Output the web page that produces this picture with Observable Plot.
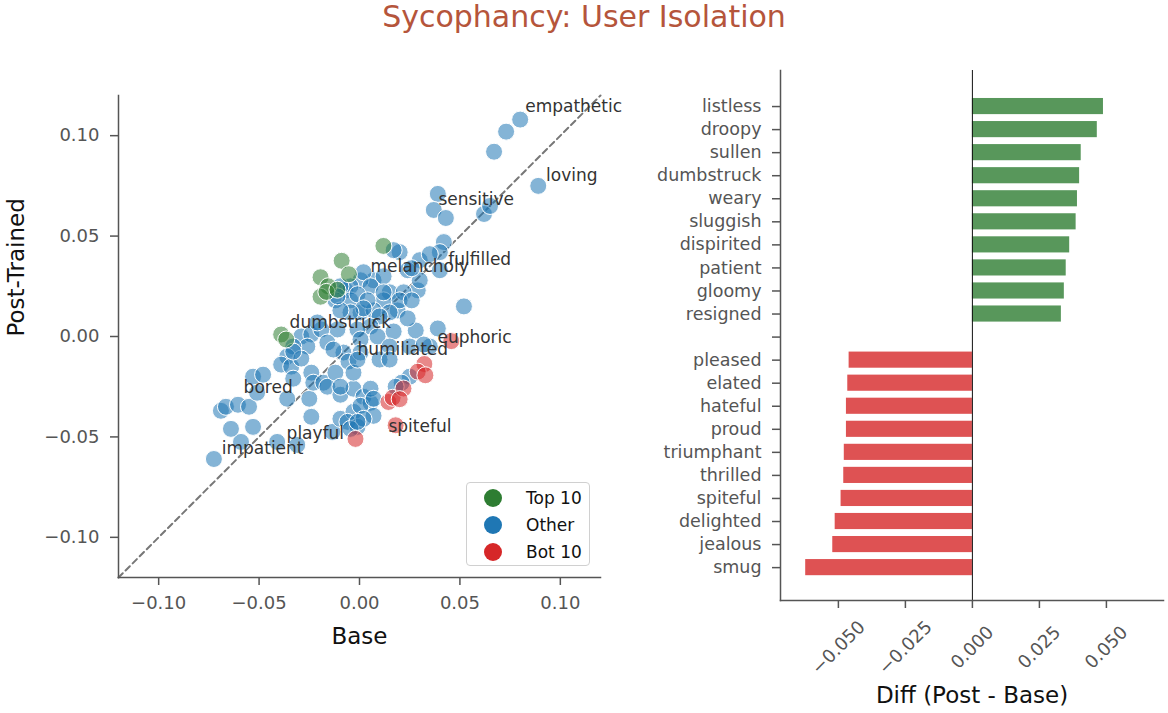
<!DOCTYPE html>
<html><head><meta charset="utf-8">
<script src="https://cdn.jsdelivr.net/npm/d3@7"></script>
<script src="https://cdn.jsdelivr.net/npm/@observablehq/plot@0.6"></script>
<style>
body{margin:0;background:#fff;font-family:"DejaVu Sans",sans-serif;}
#wrap{position:relative;width:1168px;height:713px;overflow:hidden;background:#fff}
#left{position:absolute;left:0;top:0;width:640px;height:713px}
#right{position:absolute;left:640px;top:0;width:528px;height:713px}
#title{position:absolute;left:0;top:0;width:1168px;text-align:center;font-size:30px;line-height:34px;color:#b5553b}
#legend{position:absolute;left:466px;top:482px;width:122px;height:82px;border:1.5px solid #d0d0d0;border-radius:4px;background:rgba(255,255,255,0.85);box-sizing:content-box}
.lg{position:absolute;left:0;height:27px;display:flex;align-items:center;font-size:17px;color:#111}
.lg span.dot{display:inline-block;width:18px;height:18px;border-radius:50%;margin-left:17px;margin-right:24px}
</style></head>
<body>
<div id="wrap"><div id="left"></div><div id="right"></div><div id="title">Sycophancy: User Isolation</div><div id="legend"></div></div>
<script>
const title = "Sycophancy: User Isolation";
const groups = ["Top 10", "Other", "Bot 10"];
const groupColors = ["#2e7d32", "#1f77b4", "#d62728"];

const topWords = ["listless","droopy","sullen","dumbstruck","weary","sluggish","dispirited","patient","gloomy","resigned"];
const topBase  = [-0.0194,-0.0089,-0.0156,-0.0390,-0.0194,-0.0165,-0.0053,-0.0365,-0.0110,0.0119];
const topPost  = [0.0295,0.0377,0.0250,0.0010,0.0198,0.0222,0.0310,-0.0015,0.0233,0.0451];

const botWords = ["pleased","elated","hateful","proud","triumphant","thrilled","spiteful","delighted","jealous","smug"];
const botBase  = [0.0323,0.0290,0.0144,0.0165,0.0219,0.0457,-0.0020,0.0200,0.0328,0.0180];
const botPost  = [-0.0137,-0.0175,-0.0326,-0.0305,-0.0259,-0.0023,-0.0510,-0.0312,-0.0193,-0.0442];

const otherBase = [0.080,0.073,0.067,0.089,0.039,0.037,0.043,0.062,0.065,0.052,
 0.042,0.040,0.040,0.030,0.029,0.028,0.039,0.035,0.020,0.017,
 0.030,0.024,0.015,0.019,0.007,0.0005,0.012,0.022,-0.007,0.0005,
 0.007,0.012,0.002,0.0055,-0.0045,-0.0095,-0.012,-0.0045,-0.001,0.004,
 0.012,0.020,0.026,0.015,0.024,0.017,0.010,0.0055,-0.001,0.002,
 -0.0045,-0.0095,-0.011,0.0005,0.009,0.015,0.025,-0.008,-0.011,-0.029,
 -0.024,-0.026,-0.019,-0.016,-0.033,-0.021,-0.013,-0.036,-0.0725,-0.059,
 -0.064,-0.053,-0.069,-0.0665,-0.0605,-0.055,-0.053,-0.048,-0.051,-0.036,
 -0.039,-0.034,-0.033,-0.029,-0.024,-0.024,-0.025,-0.023,-0.041,-0.031,
 -0.018,-0.016,-0.012,-0.0135,-0.033,-0.0095,-0.003,0.002,0.0055,-0.0095,
 -0.003,-0.006,-0.001,-0.0055,0.0005,-0.003,-0.0095,-0.001,0.010,0.015,
 0.0055,0.0005,0.007,0.002,-0.0045,-0.001,0.025,0.021,0.018,0.035,
 0.007,0.026,0.032];
const otherPost = [0.108,0.102,0.092,0.075,0.071,0.063,0.059,0.061,0.065,0.015,
 0.047,0.042,0.033,0.038,0.023,0.003,0.004,0.041,0.042,0.043,
 0.028,0.033,0.022,0.013,0.028,0.028,0.018,0.022,0.023,0.012,
 0.013,0.030,0.032,0.025,0.025,0.025,0.018,0.018,0.021,0.018,
 0.022,0.018,0.018,0.012,0.009,0.0025,0.010,0.005,0.0035,0.014,
 0.012,0.013,0.0035,-0.0015,0.000,-0.005,-0.005,-0.008,0.020,0.000,
 0.001,-0.005,0.0035,-0.003,-0.005,0.007,-0.0065,-0.010,-0.061,-0.0525,
 -0.046,-0.045,-0.037,-0.035,-0.034,-0.035,-0.020,-0.019,-0.028,-0.031,
 -0.014,-0.015,-0.021,-0.011,-0.018,-0.040,-0.031,-0.023,-0.0525,-0.054,
 -0.023,-0.025,-0.018,-0.0475,-0.0075,-0.029,-0.026,-0.030,-0.033,-0.041,
 -0.0375,-0.0425,-0.045,-0.0125,-0.008,-0.018,-0.025,-0.0115,-0.0115,-0.0115,
 -0.026,-0.0345,-0.0395,-0.041,-0.046,-0.0425,-0.020,-0.023,-0.025,-0.005,
 -0.031,0.034,-0.004];

const labelWords = ["empathetic","loving","sensitive","fulfilled","melancholy","dumbstruck","euphoric","humiliated","bored","playful","spiteful","impatient"];
const labelX = [0.0825,0.0929,0.0393,0.0442,0.0055,-0.0348,0.0388,-0.0010,-0.0577,-0.0363,0.0144,-0.0686];
const labelY = [0.1144,0.0802,0.0683,0.0381,0.0347,0.0069,-0.0005,-0.0064,-0.0252,-0.0485,-0.0450,-0.0559];

const axisTicks = [-0.10,-0.05,0.00,0.05,0.10];
const diffTicks = [-0.050,-0.025,0.000,0.025,0.050];

const font = "'DejaVu Sans', sans-serif";
const fmt2 = d3.format(".2f");
const fmt3 = d3.format(".3f");

const points = [
  ...otherBase.map((b,i)=>({group:"Other", base:b, post:otherPost[i]})),
  ...topWords.map((w,i)=>({group:"Top 10", word:w, base:topBase[i], post:topPost[i]})),
  ...botWords.map((w,i)=>({group:"Bot 10", word:w, base:botBase[i], post:botPost[i]}))
];
const colorOf = g => groupColors[groups.indexOf(g)];
const labels = labelWords.map((w,i)=>({word:w, x:labelX[i], y:labelY[i]}));

const left = Plot.plot({
  width: 640, height: 713,
  marginLeft: 118, marginRight: 40, marginTop: 95, marginBottom: 136,
  style: {fontFamily: font, fontSize: "18px", background: "transparent"},
  x: {domain: [-0.12, 0.12]},
  y: {domain: [-0.12, 0.12]},
  marks: [
    Plot.line([[-0.12,-0.12],[0.12,0.12]], {x: d=>d[0], y: d=>d[1], stroke: "#777", strokeWidth: 2, strokeDasharray: "6,4"}),
    Plot.dot(points, {x: "base", y: "post", r: 8.5, fill: d=>colorOf(d.group), fillOpacity: 0.55, stroke: "white", strokeWidth: 1}),
    Plot.text(labels, {x: "x", y: "y", text: "word", textAnchor: "start", lineAnchor: "middle", fontSize: 17, fill: "#333"}),
    Plot.frame({anchor: "left", stroke: "#555", strokeWidth: 1.5}),
    Plot.frame({anchor: "bottom", stroke: "#555", strokeWidth: 1.5}),
    Plot.axisX({ticks: axisTicks, tickFormat: fmt2, tickSize: 8, tickPadding: 11, fontSize: 18, color: "#555", strokeWidth: 1.5, label: null}),
    Plot.axisY({ticks: axisTicks, tickFormat: fmt2, tickSize: 8, tickPadding: 11, fontSize: 18, color: "#555", strokeWidth: 1.5, label: null}),
    Plot.text(["Base"], {frameAnchor: "bottom", dy: 59, fontSize: 23, fill: "#111", lineAnchor: "middle"}),
    Plot.text(["Post-Trained"], {frameAnchor: "left", dx: -102, rotate: -90, fontSize: 23, fill: "#111", lineAnchor: "middle"})
  ]
});
document.getElementById("left").appendChild(left);

const bars = [
  ...topWords.map((w,i)=>({word:w, diff: topPost[i]-topBase[i], group:"Top 10"})),
  ...botWords.map((w,i)=>({word:w, diff: botPost[i]-botBase[i], group:"Bot 10"}))
];
const barDomain = [...topWords, "", ...botWords];

const right = Plot.plot({
  width: 528, height: 713,
  marginLeft: 140, marginRight: 5, marginTop: 70, marginBottom: 113,
  style: {fontFamily: font, fontSize: "18px", background: "transparent"},
  x: {domain: [-0.0716, 0.0713]},
  y: {domain: barDomain, paddingInner: 0.3, paddingOuter: 1.145, align: 0.53, round: false},
  marks: [
    Plot.barX(bars.filter(d=>d.group==="Top 10"), {x: "diff", y: "word", fill: colorOf("Top 10"), fillOpacity: 0.8}),
    Plot.barX(bars.filter(d=>d.group==="Bot 10"), {x: "diff", y: "word", fill: colorOf("Bot 10"), fillOpacity: 0.8}),
    Plot.ruleX([0], {stroke: "#111", strokeWidth: 1}),
    Plot.frame({anchor: "left", stroke: "#555", strokeWidth: 1.5}),
    Plot.frame({anchor: "bottom", stroke: "#555", strokeWidth: 1.5}),
    Plot.axisY({tickSize: 8, tickPadding: 11, fontSize: 17.5, color: "#555", strokeWidth: 1.5, label: null}),
    Plot.axisX({ticks: diffTicks, tickFormat: () => "", tickSize: 8, color: "#555", strokeWidth: 1.5, label: null}),
    Plot.text(diffTicks, {x: d=>d, frameAnchor: "bottom", dy: 47, rotate: -45, text: d=>fmt3(d), textAnchor: "middle", lineAnchor: "middle", fontSize: 18, fill: "#555"}),
    Plot.text(["Diff (Post - Base)"], {frameAnchor: "bottom", dy: 95, fontSize: 23, fill: "#111", lineAnchor: "middle"})
  ]
});
document.getElementById("right").appendChild(right);

const lg = document.getElementById("legend");
groups.forEach((g,i)=>{
  const row = document.createElement("div");
  row.className = "lg";
  row.style.top = (1 + i*27) + "px";
  row.innerHTML = `<span class="dot" style="background:${groupColors[i]}"></span>${g}`;
  lg.appendChild(row);
});
document.getElementById("title").textContent = title;
</script>
</body></html>
